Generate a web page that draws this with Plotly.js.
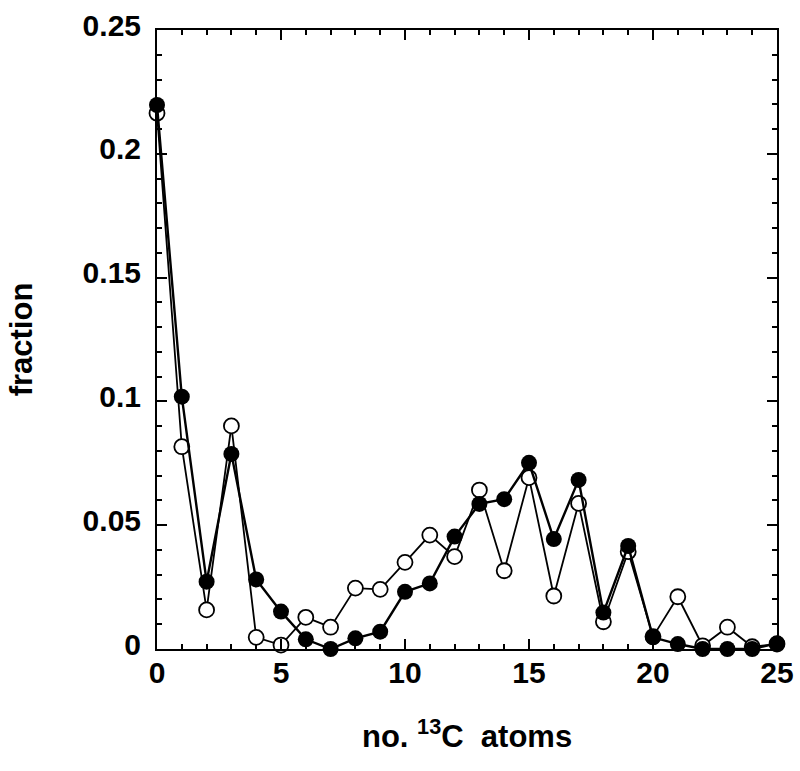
<!DOCTYPE html>
<html><head><meta charset="utf-8">
<script src="https://cdn.plot.ly/plotly-3.0.1.min.js"></script>
<style>body{margin:0;background:#fff}</style>
</head><body><div id="chart" style="width:800px;height:771px"></div>
<script>
const atoms = [0,1,2,3,4,5,6,7,8,9,10,11,12,13,14,15,16,17,18,19,20,21,22,23,24,25];
const fractionFilled = [0.2197,0.1019,0.0272,0.0788,0.0281,0.0151,0.0039,0.0,0.0043,0.0070,0.0231,0.0265,0.0454,0.0586,0.0605,0.0752,0.0444,0.0683,0.0147,0.0416,0.0047,0.0020,0.0,0.0,0.0,0.0023];
const fractionOpen = [0.2164,0.0817,0.0158,0.0901,0.0047,0.0016,0.0128,0.0088,0.0246,0.0241,0.0350,0.0460,0.0373,0.0642,0.0316,0.0692,0.0214,0.0588,0.0110,0.0393,0.0050,0.0211,0.0013,0.0088,0.0009,0.0020];
const xTicks = [0,5,10,15,20,25];
const yTicks = [0,0.05,0.1,0.15,0.2,0.25];
const yTickText = ['0','0.05','0.1','0.15','0.2','0.25'];

const FONT = 'Liberation Sans, Arial, sans-serif';
const traces = [
  {x: atoms, y: fractionOpen, type:'scatter', mode:'lines+markers', cliponaxis:false,
   line:{color:'#000', width:1.8},
   marker:{symbol:'circle', size:15, color:'#fff', line:{color:'#000', width:1.8}}},
  {x: atoms, y: fractionFilled, type:'scatter', mode:'lines+markers', cliponaxis:false,
   line:{color:'#000', width:2.4},
   marker:{symbol:'circle', size:16, color:'#000', line:{color:'#000', width:0}}}
];
const axisCommon = {
  showgrid:false, zeroline:false, showline:true, linecolor:'#000', linewidth:2,
  mirror:'allticks', ticks:'inside', ticklen:10, tickwidth:2, tickcolor:'#000',
  tickfont:{family:FONT, size:30, color:'#000', weight:'bold'}
};
const layout = {
  width:800, height:771, showlegend:false,
  paper_bgcolor:'#fff', plot_bgcolor:'#fff',
  margin:{l:157, r:23, t:30, b:122},
  xaxis: Object.assign({}, axisCommon, {
    range:[0,25], tickmode:'array', tickvals:xTicks, ticktext:xTicks.map(String),
    ticklabelstandoff:-4,
    minor:{dtick:1, ticks:'inside', ticklen:5, tickwidth:2, tickcolor:'#000', showgrid:false}
  }),
  yaxis: Object.assign({}, axisCommon, {
    range:[0,0.25], tickmode:'array', tickvals:yTicks, ticktext:yTickText,
    ticklabelstandoff:8, ticklabelshift:-5,
    minor:{dtick:0.01, tick0:0, ticks:'inside', ticklen:5, tickwidth:2, tickcolor:'#000', showgrid:false}
  }),
  annotations:[
    {text:'no. <sup>13</sup>C  atoms', xref:'paper', yref:'paper', x:0.5, y:-0.137,
     xanchor:'center', yanchor:'middle', showarrow:false,
     font:{family:FONT, size:31, color:'#000', weight:'bold'}},
    {text:'fraction', xref:'paper', yref:'paper', x:-0.218, y:0.5, textangle:-90,
     xanchor:'center', yanchor:'middle', showarrow:false,
     font:{family:FONT, size:31, color:'#000', weight:'bold'}}
  ]
};
Plotly.newPlot('chart', traces, layout, {displayModeBar:false, staticPlot:true});
</script></body></html>
